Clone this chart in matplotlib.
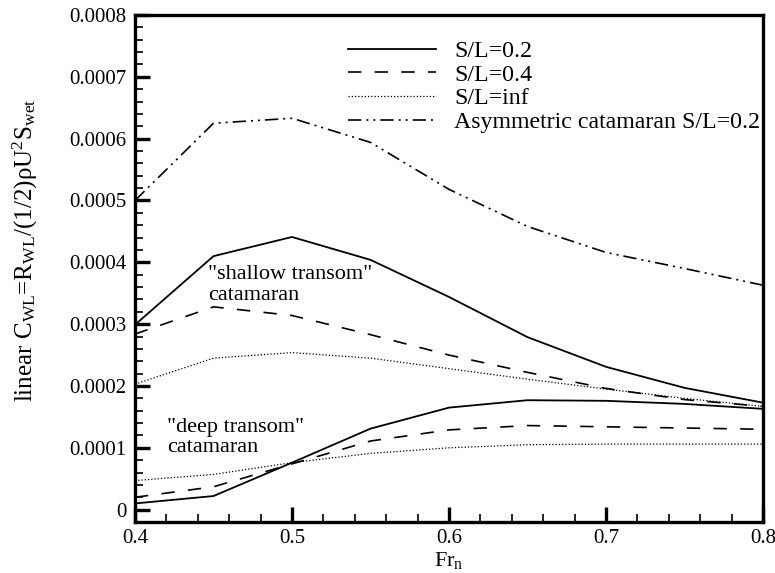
import numpy as np
import matplotlib
matplotlib.use('Agg')
import matplotlib.pyplot as plt
from matplotlib.ticker import MultipleLocator, FuncFormatter

plt.rcParams['font.family'] = ['Liberation Serif', 'DejaVu Serif']
plt.rcParams['mathtext.fontset'] = 'custom'
plt.rcParams['mathtext.rm'] = 'Liberation Serif'
plt.rcParams['mathtext.it'] = 'Liberation Serif:italic'

# Froude numbers
fr = [0.40, 0.45, 0.50, 0.55, 0.60, 0.65, 0.70, 0.75, 0.80]

# "shallow transom" catamaran
shallow_02 = [0.000299, 0.000410, 0.000441, 0.000404, 0.000344, 0.000279, 0.000231, 0.000197, 0.000173]
shallow_04 = [0.000284, 0.000328, 0.000314, 0.000283, 0.000250, 0.000222, 0.000196, 0.000178, 0.000167]
shallow_inf = [0.000203, 0.000245, 0.000254, 0.000245, 0.000228, 0.000211, 0.000195, 0.000180, 0.000167]
asym_02 = [0.000500, 0.000625, 0.000633, 0.000594, 0.000518, 0.000458, 0.000416, 0.000390, 0.000363]

# "deep transom" catamaran
deep_02 = [0.000010, 0.000022, 0.000076, 0.000131, 0.000165, 0.000177, 0.000176, 0.000171, 0.000163]
deep_04 = [0.000020, 0.000037, 0.000074, 0.000111, 0.000129, 0.000136, 0.000134, 0.000132, 0.000130]
deep_inf = [0.000047, 0.000057, 0.000076, 0.000091, 0.000100, 0.000105, 0.000106, 0.000106, 0.000106]

labels = ['S/L=0.2', 'S/L=0.4', 'S/L=inf', 'Asymmetric catamaran S/L=0.2']

SOLID = '-'
DASHED = (0, (8, 8))
DOTTED = (0, (1, 1.6))
DASHDOTDOT = (0, (8, 3, 1.2, 3, 1.2, 3))

fig = plt.figure(figsize=(7.75, 5.73), dpi=100)
ax = fig.add_axes([0.1742, 0.0890, 0.8103, 0.8848])

# shallow transom set (these carry the legend)
h1, = ax.plot(fr, shallow_02, color='k', ls=SOLID, lw=1.3)
h2, = ax.plot(fr, shallow_04, color='k', ls=DASHED, lw=1.2)
h3, = ax.plot(fr, shallow_inf, color='k', ls=DOTTED, lw=0.9)
h4, = ax.plot(fr, asym_02, color='k', ls=DASHDOTDOT, lw=1.2)

# deep transom set
ax.plot(fr, deep_02, color='k', ls=SOLID, lw=1.3)
ax.plot(fr, deep_04, color='k', ls=DASHED, lw=1.2)
ax.plot(fr, deep_inf, color='k', ls=DOTTED, lw=0.9)

ax.set_xlim(0.4, 0.8)
ax.set_ylim(-0.00002, 0.0008)

ax.xaxis.set_major_locator(MultipleLocator(0.1))
ax.xaxis.set_minor_locator(MultipleLocator(0.02))
ax.yaxis.set_major_locator(MultipleLocator(0.0001))
ax.yaxis.set_minor_locator(MultipleLocator(0.00002))
ax.xaxis.set_major_formatter(FuncFormatter(lambda v, p: '%.1f' % v))
ax.yaxis.set_major_formatter(FuncFormatter(lambda v, p: '0' if abs(v) < 1e-9 else '%.4f' % v))

ax.tick_params(which='major', direction='in', length=11, width=2.4, labelsize=15)
ax.tick_params(which='minor', direction='in', length=6, width=1.2)
ax.tick_params(axis='y', which='major', pad=6)
ax.tick_params(axis='x', which='major', pad=5)
for s in ax.spines.values():
    s.set_linewidth(2.4)

ax.set_xlabel('Fr$_{\\rm n}$', fontsize=16)
ax.xaxis.set_label_coords(0.5, -0.055)
ax.set_ylabel('linear C$_{\\rm WL}$=R$_{\\rm WL}$/(1/2)\u03c1U$^{2}$S$_{\\rm wet}$', fontsize=18)
ax.yaxis.set_label_coords(-0.152, 0.536)

ax.text(0.4465, 0.000363, '"shallow transom"\ncatamaran', fontsize=16,
        ha='left', va='center', linespacing=1.12)
ax.text(0.4204, 0.000117, '"deep transom"\ncatamaran', fontsize=16,
        ha='left', va='center', linespacing=1.05)

ax.legend([h1, h2, h3, h4], labels, loc='upper left', bbox_to_anchor=(0.339, 0.950),
          frameon=False, fontsize=17.2, handlelength=3.7, handletextpad=0.75,
          labelspacing=0.08, borderpad=0, borderaxespad=0)

plt.savefig('out.png', dpi=100)
